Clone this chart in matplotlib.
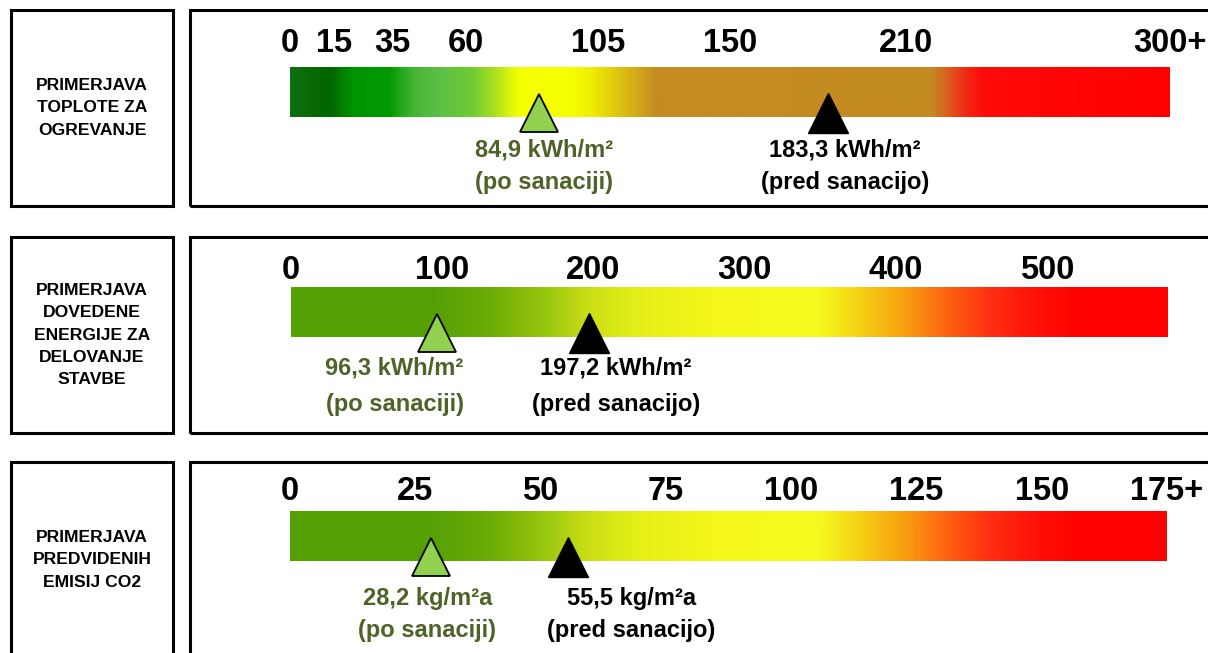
import numpy as np
import matplotlib.pyplot as plt
from matplotlib.colors import LinearSegmentedColormap
from matplotlib.patches import Rectangle

plt.rcParams['font.family'] = ['Liberation Sans', 'DejaVu Sans']
plt.rcParams['font.weight'] = 'bold'

# data
titles = ['PRIMERJAVA\nTOPLOTE ZA\nOGREVANJE',
          'PRIMERJAVA\nDOVEDENE\nENERGIJE ZA\nDELOVANJE\nSTAVBE',
          'PRIMERJAVA\nPREDVIDENIH\nEMISIJ CO2']
heat_ticks = [0, 15, 35, 60, 105, 150, 210, 300]
heat_labels = ['0', '15', '35', '60', '105', '150', '210', '300+']
energy_ticks = [0, 100, 200, 300, 400, 500]
energy_labels = ['0', '100', '200', '300', '400', '500']
co2_ticks = [0, 25, 50, 75, 100, 125, 150, 175]
co2_labels = ['0', '25', '50', '75', '100', '125', '150', '175+']
scale_max = [300, 580, 175]
after = [84.9, 96.3, 28.2]     # po sanaciji
before = [183.3, 197.2, 55.5]  # pred sanacijo
units = ['kWh/m²', 'kWh/m²', 'kg/m²a']

ticks = [heat_ticks, energy_ticks, co2_ticks]
tick_labels = [heat_labels, energy_labels, co2_labels]

# colours
heat_cmap = LinearSegmentedColormap.from_list('heat', [
    (0.0, '#0E6E0E'), (0.043, '#006600'), (0.070, '#009400'), (0.111, '#009A00'),
    (0.139, '#45B535'), (0.165, '#5BBF45'), (0.207, '#70CC33'), (0.230, '#A8E020'),
    (0.259, '#F5FF00'), (0.320, '#F5FF00'), (0.341, '#F0EE00'), (0.417, '#C68A22'),
    (0.730, '#C48A22'), (0.750, '#DC5A1E'), (0.769, '#F02A14'), (0.790, '#FF0A0A'),
    (1.0, '#FF0000')])
gy_cmap = LinearSegmentedColormap.from_list('gyr', [
    (0.0, '#55A005'), (0.157, '#55A005'), (0.223, '#6AAB05'), (0.292, '#9BC710'),
    (0.337, '#C8DE15'), (0.393, '#E5EE18'), (0.485, '#F5F81A'), (0.604, '#F5FA1E'),
    (0.645, '#F5D516'), (0.700, '#F9A010'), (0.747, '#FC6610'), (0.797, '#FF3010'),
    (0.853, '#FF1008'), (0.907, '#FF0000'), (1.0, '#FF0000')])
cmaps = [heat_cmap, gy_cmap, gy_cmap]
green_fill = '#92D050'
green_text = '#4F6228'

# layout in pixels
W, H = 1208, 653
box_tops = [10, 237, 462]
box_h = 196
bar_x = [(290, 1170), (291, 1168), (290, 1167)]
bar_tops = [67, 287, 511]
bar_h = 50
tick_pad = [8, 1, 4]
line1_dy = [33, 31, 37]
line2_dy = [66, 67, 70]
after_dx = [5, -42, -4]
before_dx = [17, 27, 63]
PT = 0.72


def fig_rect(x0, y0, x1, y1):
    return [x0 / W, 1 - y1 / H, (x1 - x0) / W, (y1 - y0) / H]


fig = plt.figure(figsize=(W / 100, H / 100), dpi=100)

for i in range(3):
    top = box_tops[i]
    for x0, x1 in [(11, 173), (190, 1214)]:
        r = fig_rect(x0, top, x1, top + box_h)
        fig.add_artist(Rectangle((r[0], r[1]), r[2], r[3], transform=fig.transFigure,
                                 fill=False, ec='black', lw=2.2))
    fig.text(92 / W, 1 - (top + box_h / 2) / H, titles[i], ha='center', va='center',
             fontsize=12.6, linespacing=1.6)

    ax = fig.add_axes(fig_rect(bar_x[i][0], bar_tops[i], bar_x[i][1], bar_tops[i] + bar_h))
    ax.imshow(np.linspace(0, 1, 800)[None, :], extent=(0, scale_max[i], 0, 1),
              aspect='auto', cmap=cmaps[i], interpolation='bilinear')
    ax.set_xlim(0, scale_max[i])
    ax.set_ylim(0, 1)
    for s in ax.spines.values():
        s.set_visible(False)
    ax.xaxis.tick_top()
    ax.set_xticks(ticks[i], tick_labels[i])
    ax.tick_params(axis='x', length=0, pad=tick_pad[i] * PT, labelsize=23.5)
    ax.set_yticks([])

    ax.plot(after[i], 0.08, marker='^', ms=27.5, mfc=green_fill, mec='black', mew=1.3,
            ls='none', clip_on=False, zorder=5)
    ax.plot(before[i], 0.09, marker='^', ms=29.5, color='black', ls='none',
            clip_on=False, zorder=5)

    for val, dx, col, note in [(after[i], after_dx[i], green_text, '(po sanaciji)'),
                               (before[i], before_dx[i], 'black', '(pred sanacijo)')]:
        txt = f'{val:.1f}'.replace('.', ',') + ' ' + units[i]
        for s, dy in [(txt, line1_dy[i]), (note, line2_dy[i])]:
            ax.annotate(s, xy=(val, 0), xycoords=('data', 'axes fraction'),
                        xytext=(dx * PT, -dy * PT), textcoords='offset points',
                        ha='center', va='center', fontsize=17, color=col,
                        annotation_clip=False)

fig.savefig('out.png', dpi=100)
